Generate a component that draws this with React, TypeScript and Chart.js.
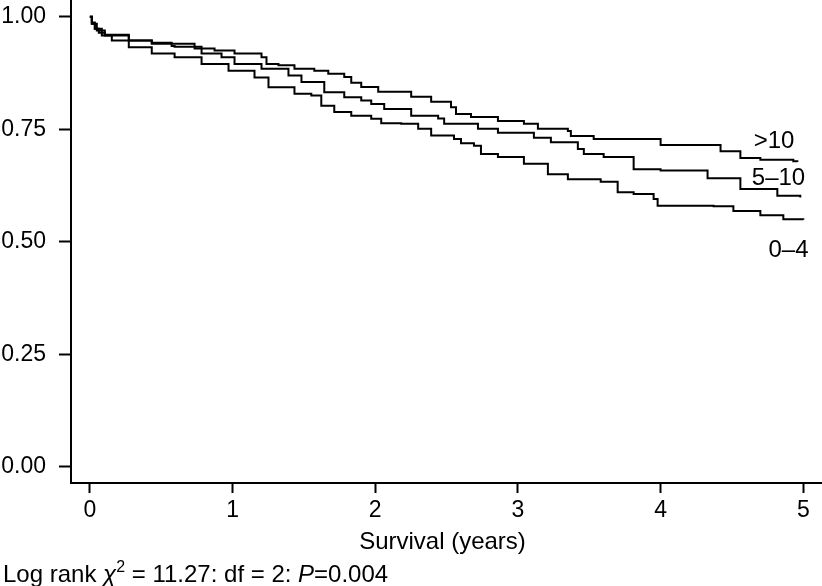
import { useEffect, useRef } from "react";
import { Chart, registerables } from "chart.js";

Chart.register(...registerables);

const FONT = '"Liberation Sans", Arial, Helvetica, sans-serif';

// Kaplan–Meier estimates (time in years, survival proportion)
const tOver10 = [0, 0.014, 0.035, 0.063, 0.105, 0.273, 0.434, 0.573, 0.734, 0.874, 1.014, 1.203, 1.238, 1.322, 1.434, 1.573, 1.671, 1.783, 1.832, 1.902, 2.021, 2.252, 2.392, 2.531, 2.566, 2.671, 2.86, 3.042, 3.14, 3.35, 3.371, 3.531, 4.0, 4.42, 4.559, 4.699, 4.93, 4.958];
const sOver10 = [1.0, 0.984, 0.973, 0.964, 0.96, 0.947, 0.942, 0.94, 0.929, 0.925, 0.918, 0.91, 0.895, 0.892, 0.884, 0.88, 0.873, 0.866, 0.853, 0.844, 0.833, 0.822, 0.811, 0.799, 0.784, 0.777, 0.768, 0.762, 0.751, 0.746, 0.735, 0.728, 0.715, 0.701, 0.686, 0.682, 0.679, 0.677];

const t5to10 = [0, 0.014, 0.049, 0.105, 0.273, 0.434, 0.573, 0.594, 0.783, 0.923, 1.014, 1.203, 1.392, 1.483, 1.643, 1.783, 1.902, 1.972, 2.063, 2.252, 2.441, 2.483, 2.72, 2.86, 3.112, 3.231, 3.42, 3.462, 3.601, 3.811, 4.0, 4.329, 4.559, 4.818, 4.979];
const s5to10 = [1.0, 0.984, 0.969, 0.958, 0.947, 0.94, 0.935, 0.933, 0.918, 0.91, 0.895, 0.884, 0.869, 0.855, 0.832, 0.821, 0.814, 0.806, 0.795, 0.78, 0.774, 0.762, 0.751, 0.742, 0.731, 0.721, 0.706, 0.695, 0.688, 0.661, 0.658, 0.641, 0.617, 0.602, 0.598];

const t0to4 = [0, 0.014, 0.035, 0.084, 0.154, 0.273, 0.434, 0.594, 0.783, 0.972, 1.154, 1.252, 1.434, 1.552, 1.622, 1.713, 1.832, 1.972, 2.042, 2.182, 2.301, 2.392, 2.552, 2.601, 2.692, 2.741, 2.86, 3.042, 3.21, 3.35, 3.58, 3.699, 3.811, 3.951, 3.979, 4.371, 4.51, 4.699, 4.86, 5.0];
const s0to4 = [1.0, 0.987, 0.973, 0.958, 0.947, 0.932, 0.918, 0.91, 0.895, 0.88, 0.865, 0.843, 0.829, 0.825, 0.802, 0.788, 0.78, 0.773, 0.763, 0.762, 0.751, 0.736, 0.728, 0.719, 0.713, 0.695, 0.688, 0.673, 0.65, 0.639, 0.633, 0.61, 0.606, 0.595, 0.58, 0.579, 0.568, 0.559, 0.55, 0.549];

const seriesNames = [">10", "5\u201310", "0\u20134"];
const labelT = [4.795, 4.826, 4.896];
const labelS = [0.722, 0.64, 0.48];

const xTicks = [0, 1, 2, 3, 4, 5];
const yTicks = [0, 0.25, 0.5, 0.75, 1];
const xTitle = "Survival (years)";

function toPoints(t: number[], s: number[]) {
  return t.map((v, i) => ({ x: v, y: s[i] }));
}

export default function App() {
  const ref = useRef<HTMLCanvasElement | null>(null);

  useEffect(() => {
    const canvas = ref.current;
    if (!canvas) return;

    const textPlugin = {
      id: "kmText",
      afterDraw(chart: any) {
        const c = chart.ctx as CanvasRenderingContext2D;
        const xs = chart.scales.x;
        const ys = chart.scales.y;
        const area = chart.chartArea;
        c.save();
        c.fillStyle = "#000";
        // curve labels
        c.font = `24px ${FONT}`;
        c.textAlign = "center";
        c.textBaseline = "middle";
        seriesNames.forEach((n, i) => {
          c.fillText(n, xs.getPixelForValue(labelT[i]), ys.getPixelForValue(labelS[i]));
        });
        // axis title
        c.font = `24px ${FONT}`;
        c.textBaseline = "alphabetic";
        c.fillText(xTitle, (area.left + area.right) / 2 - 4, 549);
        // caption
        c.textAlign = "left";
        const base = 582;
        let x = 3;
        const seg = (txt: string, font: string, dy = 0) => {
          c.font = font;
          c.fillText(txt, x, base + dy);
          x += c.measureText(txt).width;
        };
        seg("Log rank ", `24px ${FONT}`);
        seg("\u03C7", `italic 24px ${FONT}`);
        seg("2", `16px ${FONT}`, -10);
        seg(" = 11.27: df = 2: ", `24px ${FONT}`);
        seg("P", `italic 24px ${FONT}`);
        seg("=0.004", `24px ${FONT}`);
        c.restore();
      },
    };

    const lineStyle = {
      borderColor: "#000",
      borderWidth: 2,
      pointRadius: 0,
      stepped: true as const,
      fill: false,
    };

    const chart = new Chart(canvas, {
      type: "line",
      data: {
        datasets: [
          { label: seriesNames[0], data: toPoints(tOver10, sOver10), ...lineStyle },
          { label: seriesNames[1], data: toPoints(t5to10, s5to10), ...lineStyle },
          { label: seriesNames[2], data: toPoints(t0to4, s0to4), ...lineStyle },
        ],
      },
      options: {
        animation: false,
        responsive: false,
        layout: { padding: 0 },
        plugins: { legend: { display: false }, tooltip: { enabled: false } },
        scales: {
          x: {
            type: "linear",
            min: -0.132,
            max: 5.131,
            afterBuildTicks: (s: any) => {
              s.ticks = xTicks.map((v) => ({ value: v }));
            },
            afterFit: (s: any) => {
              s.height = 103;
              s.paddingLeft = 0;
              s.paddingRight = 0;
            },
            ticks: {
              color: "#000",
              font: { family: FONT, size: 23 },
              padding: 4,
              maxRotation: 0,
              autoSkip: false,
              callback: (v: any) => String(v),
            },
            grid: {
              drawOnChartArea: false,
              drawTicks: true,
              tickLength: 10,
              tickWidth: 2,
              tickColor: "#000",
              color: "#000",
            },
            border: { display: true, color: "#000", width: 2 },
          },
          y: {
            type: "linear",
            min: -0.036,
            max: 1.037,
            afterBuildTicks: (s: any) => {
              s.ticks = yTicks.map((v) => ({ value: v }));
            },
            afterFit: (s: any) => {
              s.width = 71;
              s.paddingTop = 0;
              s.paddingBottom = 0;
            },
            ticks: {
              color: "#000",
              font: { family: FONT, size: 23 },
              padding: 13,
              autoSkip: false,
              callback: (v: any) => Number(v).toFixed(2),
            },
            grid: {
              drawOnChartArea: false,
              drawTicks: true,
              tickLength: 12,
              tickWidth: 2,
              tickColor: "#000",
              color: "#000",
            },
            border: { display: true, color: "#000", width: 2 },
          },
        },
      },
      plugins: [textPlugin],
    });

    return () => chart.destroy();
  }, []);

  return (
    <div style={{ position: "fixed", left: 0, top: 0, width: 822, height: 586, background: "#fff" }}>
      <canvas ref={ref} width={822} height={586} style={{ display: "block" }} />
    </div>
  );
}
